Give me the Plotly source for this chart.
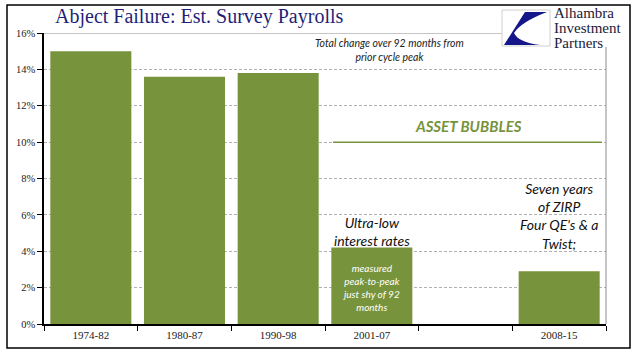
import plotly.graph_objects as go

categories = ["1974-82", "1980-87", "1990-98", "2001-07", " ", "2008-15"]
values = [15.0, 13.6, 13.8, 4.2, None, 2.9]
y_ticks = [0, 2, 4, 6, 8, 10, 12, 14, 16]
y_labels = [f"{v}%" for v in y_ticks]

W, H = 641, 358
L, R, T, B = 44, 35, 33, 34
PW, PH = W - L - R, H - T - B

def px(x):
    return (x - L) / PW

def py(y):
    return (H - B - y) / PH

OLIVE = "#77933C"
NAVY = "#1F1F78"

fig = go.Figure()
fig.add_trace(go.Bar(x=categories, y=values, marker_color=OLIVE,
                     marker_line_width=0, hoverinfo="skip"))

shapes = []
# outer border
shapes.append(dict(type="rect", xref="paper", yref="paper",
                   x0=px(7), x1=px(630), y0=py(348), y1=py(5),
                   line=dict(color="black", width=1.5), layer="below"))
# top solid line at 16%
shapes.append(dict(type="line", xref="paper", yref="y", x0=0, x1=px(502),
                   y0=16, y1=16, line=dict(color="#8c8c8c", width=1)))
# right frame line
shapes.append(dict(type="line", xref="paper", yref="paper", x0=1, x1=1,
                   y0=0, y1=py(47), line=dict(color="#8c8c8c", width=1)))
# asset bubbles line at 10%
shapes.append(dict(type="line", xref="paper", yref="y", x0=px(333), x1=px(602),
                   y0=10, y1=10, line=dict(color=OLIVE, width=1.5)))
# logo box
shapes.append(dict(type="rect", xref="paper", yref="paper",
                   x0=px(502), x1=px(550), y0=py(46), y1=py(10),
                   fillcolor="white", line=dict(color="#d0d0d0", width=1)))
# logo swoosh
pts = "M {a},{b} L {c},{d} Q {e},{f} {g},{h} Q {i},{j} {k},{l} L {m},{n} Z".format(
    a=px(525), b=py(12), c=px(547), d=py(12), e=px(521), f=py(22), g=px(514), h=py(33),
    i=px(518), j=py(42), k=px(540), l=py(45), m=px(504), n=py(45))
shapes.append(dict(type="path", xref="paper", yref="paper", path=pts,
                   fillcolor="#15168A", line=dict(width=0)))

annotations = []
annotations.append(dict(text="Abject Failure: Est. Survey Payrolls", xref="paper", yref="paper",
                        x=px(53), y=py(17), xanchor="left", yanchor="middle", showarrow=False,
                        font=dict(family="Liberation Serif", size=20, color=NAVY)))
for i, t in enumerate(["Alhambra", "Investment", "Partners"]):
    annotations.append(dict(text=t, xref="paper", yref="paper", x=px(552), y=py(13 + 15 * i),
                            xanchor="left", yanchor="middle", showarrow=False,
                            font=dict(family="Liberation Serif", size=15, color="#1a1a3a")))
annotations.append(dict(text="<i>Total change over 92 months from<br>prior cycle peak</i>",
                        xref="paper", yref="paper", x=px(389), y=py(50), xanchor="center",
                        yanchor="middle", showarrow=False,
                        font=dict(family="Lato", size=10.5, color="#222")))
annotations.append(dict(text="<b><i>ASSET BUBBLES</i></b>", xref="paper", yref="paper",
                        x=px(468), y=py(126), xanchor="center", yanchor="middle", showarrow=False,
                        font=dict(family="Lato", size=15, color=OLIVE)))
annotations.append(dict(text="<i>Ultra-low<br>interest rates</i>", xref="x", yref="paper",
                        x="2001-07", y=py(231), xanchor="center", yanchor="middle", showarrow=False,
                        font=dict(family="Lato", size=14, color="#111")))
annotations.append(dict(text="<i>measured<br>peak-to-peak<br>just shy of 92<br>months</i>",
                        xref="x", yref="paper", x="2001-07", y=py(287), xanchor="center",
                        yanchor="middle", showarrow=False,
                        font=dict(family="Lato", size=10, color="white")))
annotations.append(dict(text="<i>Seven years<br>of ZIRP<br>Four QE's &amp; a<br>Twist;</i>",
                        xref="x", yref="paper", x="2008-15", y=py(216), xanchor="center",
                        yanchor="middle", showarrow=False,
                        font=dict(family="Lato", size=14, color="#111")))

fig.update_layout(
    width=W, height=H, margin=dict(l=L, r=R, t=T, b=B),
    paper_bgcolor="white", plot_bgcolor="white",
    showlegend=False, bargap=0.135,
    shapes=shapes, annotations=annotations,
    xaxis=dict(type="category", categoryorder="array", categoryarray=categories,
               tickson="boundaries", ticks="outside", ticklen=5, tickcolor="black",
               showline=True, linecolor="black", linewidth=1.5, showgrid=False,
               tickfont=dict(family="Liberation Serif", size=11, color="#222"),
               range=[-0.5, 5.5], fixedrange=True),
    yaxis=dict(range=[0, 16], tickvals=y_ticks, ticktext=y_labels, ticks="outside",
               ticklen=5, tickcolor="black", showline=True, linecolor="black", linewidth=1.5,
               showgrid=True, gridcolor="#b0b0b0", griddash="3px,2px", gridwidth=1,
               zeroline=False,
               tickfont=dict(family="Liberation Serif", size=10.5, color="#222"), fixedrange=True),
)

fig.write_html("out.html", config={"displayModeBar": False},
               post_script="document.body.style.margin='0px';document.body.style.overflow='hidden';")
